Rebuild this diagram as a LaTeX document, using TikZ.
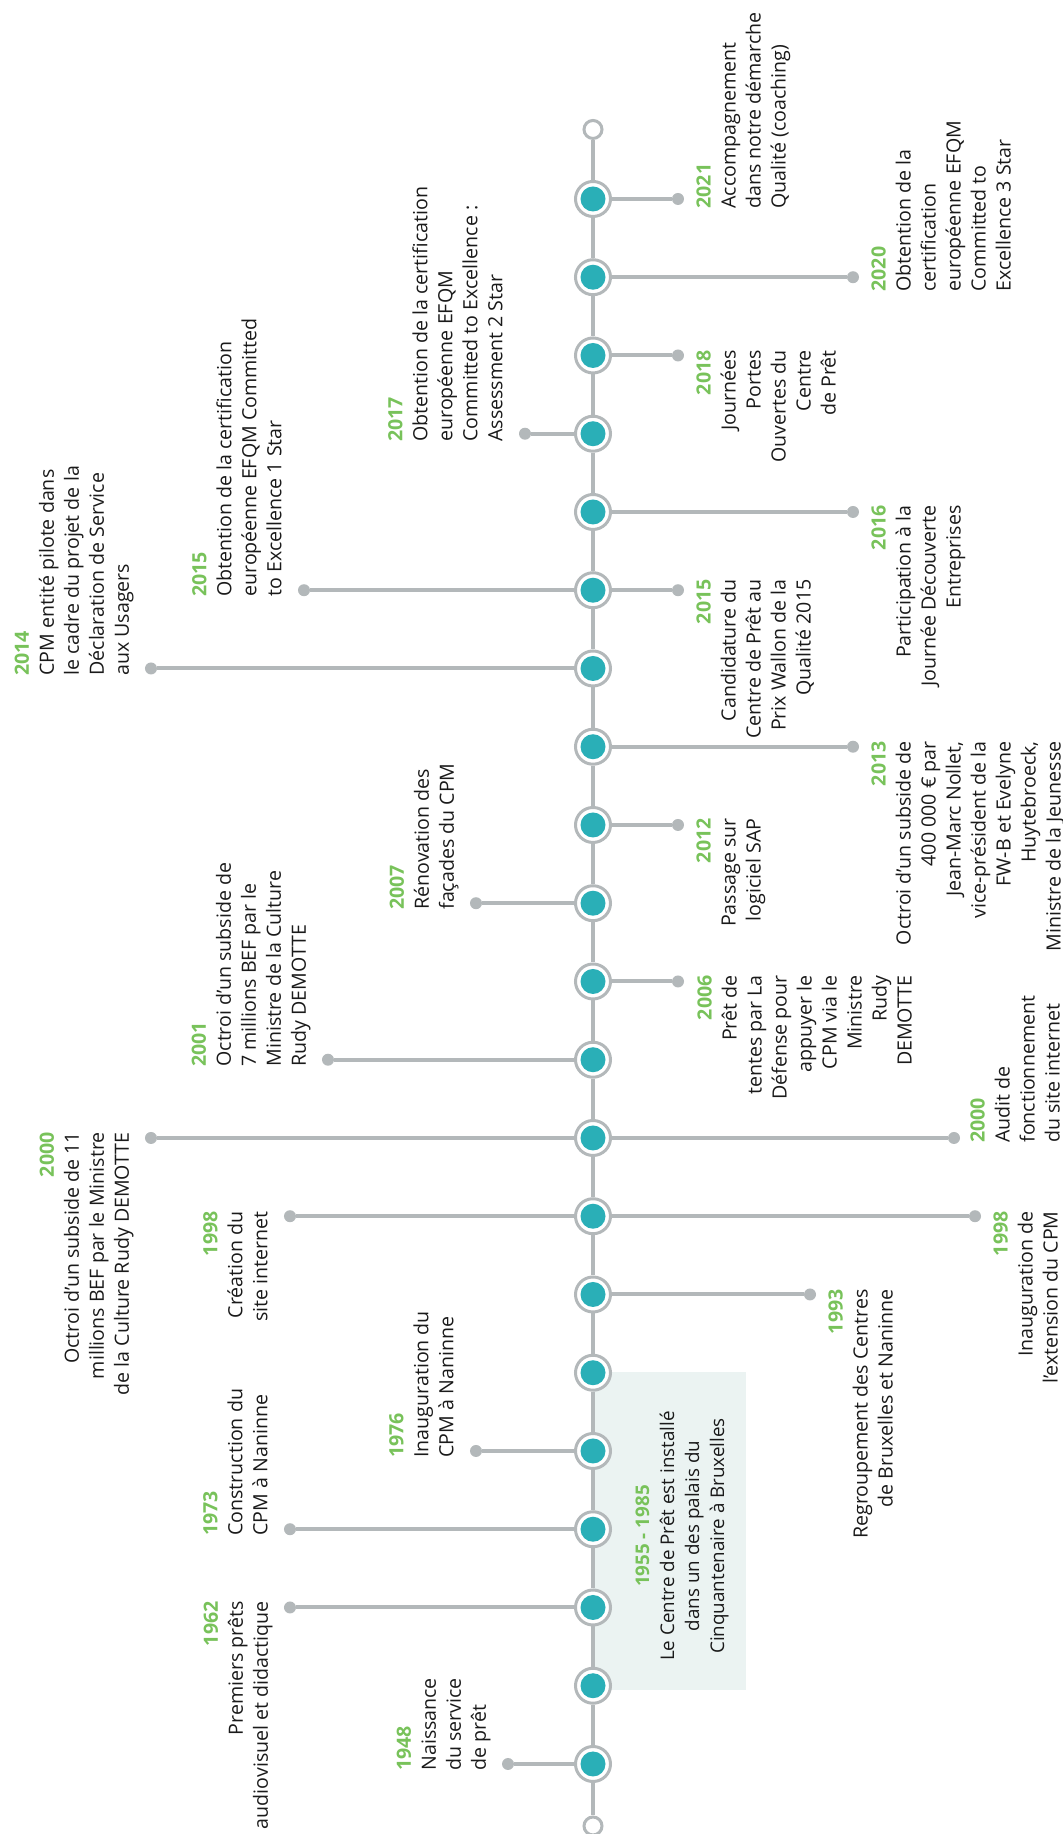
\documentclass[tikz,border=0pt]{standalone}
\usepackage{fontspec}
\setmainfont{Open Sans}
\definecolor{lngray}{HTML}{B3B8BA}
\definecolor{tlteal}{HTML}{2AAFB7}
\definecolor{yrgreen}{HTML}{78C25A}
\definecolor{boxbg}{HTML}{EBF3F2}
\definecolor{ink}{HTML}{1A1A1A}
\newcommand{\yr}[1]{{\color{yrgreen}\bfseries #1}}

\begin{document}
\begin{tikzpicture}[rotate=90,transform shape,x=0.5pt,y=0.5pt,
  marker/.style={circle,fill=white,draw=lngray,line width=1.5pt,minimum size=17.5pt,inner sep=0pt,
    path picture={\fill[tlteal] (path picture bounding box.center) circle (6.25pt);}},
  tip/.style={circle,fill=white,draw=lngray,line width=1.5pt,minimum size=9pt,inner sep=0pt},
  dot/.style={circle,fill=lngray,minimum size=6pt,inner sep=0pt},
  stub/.style={draw=lngray,line width=2pt},
  axis/.style={draw=lngray,line width=2.3pt},
  lbl/.style={font=\fontsize{9.8}{12.5}\selectfont,text=ink,inner sep=0pt}]
\useasboundingbox (0,-469) rectangle (1834,593);
\fill[boxbg] (144,0) rectangle (462,-153);

\node[tip] (tstart) at (8,0) {};
\node[tip] (tend) at (1704.5,0) {};
\node[marker] (m1948) at (70,0) {};
\node[marker] (mx1) at (148.25,0) {};
\node[marker] (m1962) at (226.5,0) {};
\node[marker] (m1973) at (304.75,0) {};
\node[marker] (m1976) at (383,0) {};
\node[marker] (mx2) at (461.25,0) {};
\node[marker] (m1993) at (539.5,0) {};
\node[marker] (m1998) at (617.75,0) {};
\node[marker] (m2000) at (696,0) {};
\node[marker] (m2001) at (774.25,0) {};
\node[marker] (m2006) at (852.5,0) {};
\node[marker] (m2007) at (930.75,0) {};
\node[marker] (m2012) at (1009,0) {};
\node[marker] (m2013) at (1087.25,0) {};
\node[marker] (m2014) at (1165.5,0) {};
\node[marker] (m2015) at (1243.75,0) {};
\node[marker] (m2016) at (1322,0) {};
\node[marker] (m2017) at (1400.25,0) {};
\node[marker] (m2018) at (1478.5,0) {};
\node[marker] (m2020) at (1556.75,0) {};
\node[marker] (m2021) at (1635,0) {};

\draw[axis] (tstart) -- (m1948) -- (mx1) -- (m1962) -- (m1973) -- (m1976) -- (mx2) -- (m1993)
  -- (m1998) -- (m2000) -- (m2001) -- (m2006) -- (m2007) -- (m2012) -- (m2013) -- (m2014)
  -- (m2015) -- (m2016) -- (m2017) -- (m2018) -- (m2020) -- (m2021) -- (tend);

\node[dot] (u1948) at (70,85) {};
\node[dot] (u1962) at (226.5,303) {};
\node[dot] (u1973) at (304.75,303) {};
\node[dot] (u1976) at (383,117) {};
\node[dot] (u1998) at (617.75,303) {};
\node[dot] (u2000) at (696,442) {};
\node[dot] (u2001) at (774.25,265) {};
\node[dot] (u2007) at (930.75,117) {};
\node[dot] (u2014) at (1165.5,442) {};
\node[dot] (u2015) at (1243.75,289) {};
\node[dot] (u2017) at (1400.25,68) {};
\node[dot] (l1993) at (539.5,-217) {};
\node[dot] (l1998) at (617.75,-382) {};
\node[dot] (l2000) at (696,-361) {};
\node[dot] (l2006) at (852.5,-85) {};
\node[dot] (l2012) at (1009,-85) {};
\node[dot] (l2013) at (1087.25,-260) {};
\node[dot] (l2015) at (1243.75,-85) {};
\node[dot] (l2016) at (1322,-260) {};
\node[dot] (l2018) at (1478.5,-85) {};
\node[dot] (l2020) at (1556.75,-260) {};
\node[dot] (l2021) at (1635,-85) {};

\draw[stub] (m1948) -- (u1948);
\draw[stub] (m1962) -- (u1962);
\draw[stub] (m1973) -- (u1973);
\draw[stub] (m1976) -- (u1976);
\draw[stub] (m1998) -- (u1998);
\draw[stub] (m2000) -- (u2000);
\draw[stub] (m2001) -- (u2001);
\draw[stub] (m2007) -- (u2007);
\draw[stub] (m2014) -- (u2014);
\draw[stub] (m2015) -- (u2015);
\draw[stub] (m2017) -- (u2017);
\draw[stub] (m1993) -- (l1993);
\draw[stub] (m1998) -- (l1998);
\draw[stub] (m2000) -- (l2000);
\draw[stub] (m2006) -- (l2006);
\draw[stub] (m2012) -- (l2012);
\draw[stub] (m2013) -- (l2013);
\draw[stub] (m2015) -- (l2015);
\draw[stub] (m2016) -- (l2016);
\draw[stub] (m2018) -- (l2018);
\draw[stub] (m2020) -- (l2020);
\draw[stub] (m2021) -- (l2021);

\node[lbl,align=left,anchor=south west] (t1948) at (63,102) {\yr{1948}\\Naissance\\du service\\de prêt};
\node[lbl,align=right,anchor=south east] (t1962) at (233,320) {\yr{1962}\\Premiers prêts\\audiovisuel et didactique};
\node[lbl,align=left,anchor=south west] (t1973) at (298,325) {\yr{1973}\\Construction du\\CPM à Naninne};
\node[lbl,align=left,anchor=south west] (t1976) at (376,139) {\yr{1976}\\Inauguration du\\CPM à Naninne};
\node[lbl,align=right,anchor=south east] (t1998a) at (623,325) {\yr{1998}\\Création du\\site internet};
\node[lbl,align=right,anchor=south east] (t2000a) at (702,459) {\yr{2000}\\Octroi d’un subside de 11\\millions BEF par le Ministre\\de la Culture Rudy DEMOTTE};
\node[lbl,align=left,anchor=south west] (t2001) at (767,282) {\yr{2001}\\Octroi d’un subside de\\7 millions BEF par le\\Ministre de la Culture\\Rudy DEMOTTE};
\node[lbl,align=left,anchor=south west] (t2007) at (924,134) {\yr{2007}\\Rénovation des\\façades du CPM};
\node[lbl,align=left,anchor=south west] (t2014) at (1158,459) {\yr{2014}\\CPM entité pilote dans\\le cadre du projet de la\\Déclaration de Service\\aux Usagers};
\node[lbl,align=left,anchor=south west] (t2015a) at (1237,311) {\yr{2015}\\Obtention de la certification\\européenne EFQM Committed\\to Excellence 1 Star};
\node[lbl,align=left,anchor=south west] (t2017) at (1392,90) {\yr{2017}\\Obtention de la certification\\européenne EFQM\\Committed to Excellence :\\Assessment 2 Star};

\node[lbl,align=right,anchor=north east] (t1993) at (545,-235) {\yr{1993}\\Regroupement des Centres\\de Bruxelles et Naninne};
\node[lbl,align=right,anchor=north east] (t1998b) at (623,-400) {\yr{1998}\\Inauguration de\\l’extension du CPM};
\node[lbl,align=left,anchor=north west] (t2000b) at (691,-377) {\yr{2000}\\Audit de\\fonctionnement\\du site internet};
\node[lbl,align=right,anchor=north east] (t2006) at (859,-104) {\yr{2006}\\Prêt de\\tentes par La\\Défense pour\\appuyer le\\CPM via le\\Ministre\\Rudy\\DEMOTTE};
\node[lbl,align=right,anchor=north east] (t2012) at (1016,-103) {\yr{2012}\\Passage sur\\logiciel SAP};
\node[lbl,align=right,anchor=north east] (t2013) at (1093,-278) {\yr{2013}\\Octroi d’un subside de\\400 000 € par\\Jean-Marc Nollet,\\vice-président de la\\FW-B et Evelyne\\Huytebroeck,\\Ministre de la Jeunesse};
\node[lbl,align=right,anchor=north east] (t2015b) at (1255,-103) {\yr{2015}\\Candidature du\\Centre de Prêt au\\Prix Wallon de la\\Qualité 2015};
\node[lbl,align=right,anchor=north east] (t2016) at (1329,-278) {\yr{2016}\\Participation à la\\Journée Découverte\\Entreprises};
\node[lbl,align=right,anchor=north east] (t2018) at (1484,-103) {\yr{2018}\\Journées\\Portes\\Ouvertes du\\Centre\\de Prêt};
\node[lbl,align=left,anchor=north west] (t2020) at (1542,-278) {\yr{2020}\\Obtention de la\\certification\\européenne EFQM\\Committed to\\Excellence 3 Star};
\node[lbl,align=left,anchor=north west] (t2021) at (1625,-103) {\yr{2021}\\Accompagnement\\dans notre démarche\\Qualité (coaching)};

\node[lbl,align=center,font=\fontsize{9.4}{12.5}\selectfont] (tperiod) at (298,-89) {\yr{1955 - 1985}\\Le Centre de Prêt est installé\\dans un des palais du\\Cinquantenaire à Bruxelles};
\end{tikzpicture}
\end{document}
